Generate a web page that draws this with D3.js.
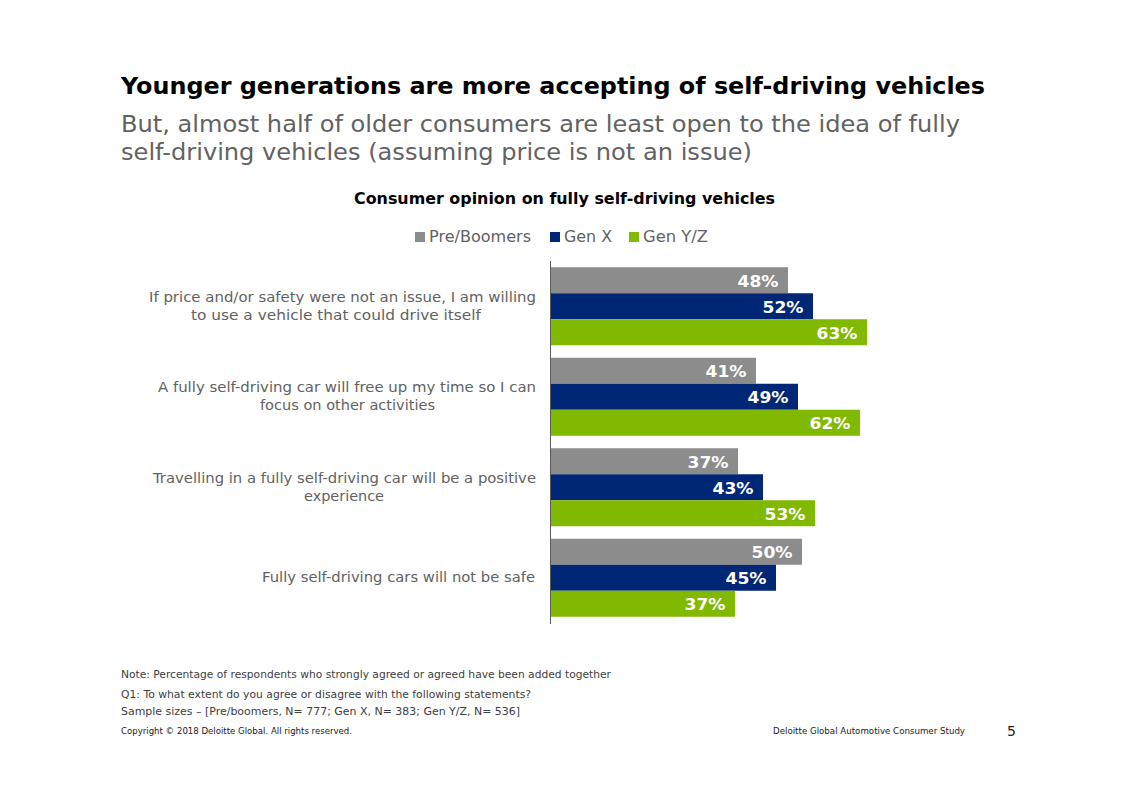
<!DOCTYPE html>
<html><head><meta charset="utf-8">
<script src="https://d3js.org/d3.v7.min.js"></script>
<style>html,body{margin:0;padding:0;background:#fff}svg{display:block}text{font-family:"DejaVu Sans",Verdana,sans-serif}</style>
</head><body><div id="c"></div>
<script>
const categories = ["q1","q2","q3","q4"];
const categoryLines = [
  ["If price and/or safety were not an issue, I am willing","to use a vehicle that could drive itself"],
  ["A fully self-driving car will free up my time so I can","focus on other activities"],
  ["Travelling in a fully self-driving car will be a positive","experience"],
  ["Fully self-driving cars will not be safe"]
];
const categoryWidths = [[387,290],[378,175],[383,80],[273]];
const secondLineCentres = [336,347.5,344];
const seriesNames = ["Pre/Boomers","Gen X","Gen Y/Z"];
const seriesColors = ["#8c8c8c","#002776","#81b800"];
const preBoomers = [47.4,41,37.4,50.2];
const genX = [52.4,49.4,42.4,45];
const genYZ = [63.2,61.8,52.8,36.8];
const preBoomersLabels = ["48%","41%","37%","50%"];
const genXLabels = ["52%","49%","43%","45%"];
const genYZLabels = ["63%","62%","53%","37%"];
const seriesValues = [preBoomers,genX,genYZ];
const seriesLabels = [preBoomersLabels,genXLabels,genYZLabels];
const title = "Younger generations are more accepting of self-driving vehicles";
const subtitle = ["But, almost half of older consumers are least open to the idea of fully","self-driving vehicles (assuming price is not an issue)"];
const chartTitle = "Consumer opinion on fully self-driving vehicles";
const notes = ["Note: Percentage of respondents who strongly agreed or agreed have been added together","Q1: To what extent do you agree or disagree with the following statements?","Sample sizes – [Pre/boomers, N= 777; Gen X, N= 383; Gen Y/Z, N= 536]"];
const copyright = "Copyright © 2018 Deloitte Global. All rights reserved.";
const study = "Deloitte Global Automotive Consumer Study";
const pageNo = "5";

const svg = d3.select("#c").append("svg").attr("width",1122).attr("height",793);
const T=(s,x,y,size,fill,opt={})=>{const t=svg.append("text").attr("x",x).attr("y",y).attr("font-size",size).attr("fill",fill).attr("text-anchor",opt.anchor||"start").attr("font-weight",opt.weight||"normal").text(s);
  if(opt.len)t.attr("textLength",opt.len).attr("lengthAdjust",opt.adjust||"spacingAndGlyphs");return t;};

T(title,121,94,23,"#000",{weight:"bold",len:864});
T(subtitle[0],121,132,23.5,"#626262",{len:839});
T(subtitle[1],121,160,23.5,"#626262",{len:631});
T(chartTitle,564.5,204,15,"#000",{weight:"bold",anchor:"middle",len:421});

const x=d3.scaleLinear().domain([0,70]).range([551,901]);
const y=d3.scaleBand().domain(categories).range([261,623]).paddingInner(0.138).paddingOuter(0.069);
const y1=d3.scaleBand().domain(d3.range(3)).range([0,y.bandwidth()]);

seriesValues.forEach((vals,s)=>{
  svg.append("g").selectAll("rect").data(vals).join("rect")
    .attr("x",x(0)).attr("y",(d,i)=>y(categories[i])+y1(s))
    .attr("width",d=>x(d)-x(0)).attr("height",y1.bandwidth()).attr("fill",seriesColors[s]);
  svg.append("g").selectAll("text").data(vals).join("text")
    .attr("x",d=>x(d)-9.5).attr("y",(d,i)=>y(categories[i])+y1(s)+y1.bandwidth()/2+6.5)
    .attr("text-anchor","end").attr("font-size",16.5).attr("font-weight","bold").attr("fill","#fff")
    .attr("textLength",41).attr("lengthAdjust","spacingAndGlyphs")
    .text((d,i)=>seriesLabels[s][i]);
});
svg.append("line").attr("x1",550.5).attr("x2",550.5).attr("y1",261).attr("y2",624).attr("stroke","#595959").attr("stroke-width",1);

categoryLines.forEach((lines,i)=>{
  const cy=y(categories[i])+y.bandwidth()/2;
  lines.forEach((l,j)=>{
    const multi=lines.length>1;
    T(l,multi?(j==0?536:secondLineCentres[i]):535,cy+(j-(lines.length-1)/2)*18+4.5,14.2,"#626262",
      {anchor:multi&&j>0?"middle":"end",len:categoryWidths[i][j]});
  });
});

const legX=[415,550,629], legTX=[429,564,643], legW=[102,48,65];
seriesNames.forEach((n,i)=>{
  svg.append("rect").attr("x",legX[i]).attr("y",232).attr("width",10).attr("height",10).attr("fill",seriesColors[i]);
  T(n,legTX[i],242,15.5,"#626262",{len:legW[i]});
});

const noteLens=[490,410,399];
[678,698,715].forEach((yy,i)=>T(notes[i],121,yy,10.3,"#404040",{len:noteLens[i]}));
T(copyright,121,734,8.5,"#222",{len:231});
T(study,773,734,8.5,"#222",{len:192});
T(pageNo,1007,736,14,"#222");
</script></body></html>
